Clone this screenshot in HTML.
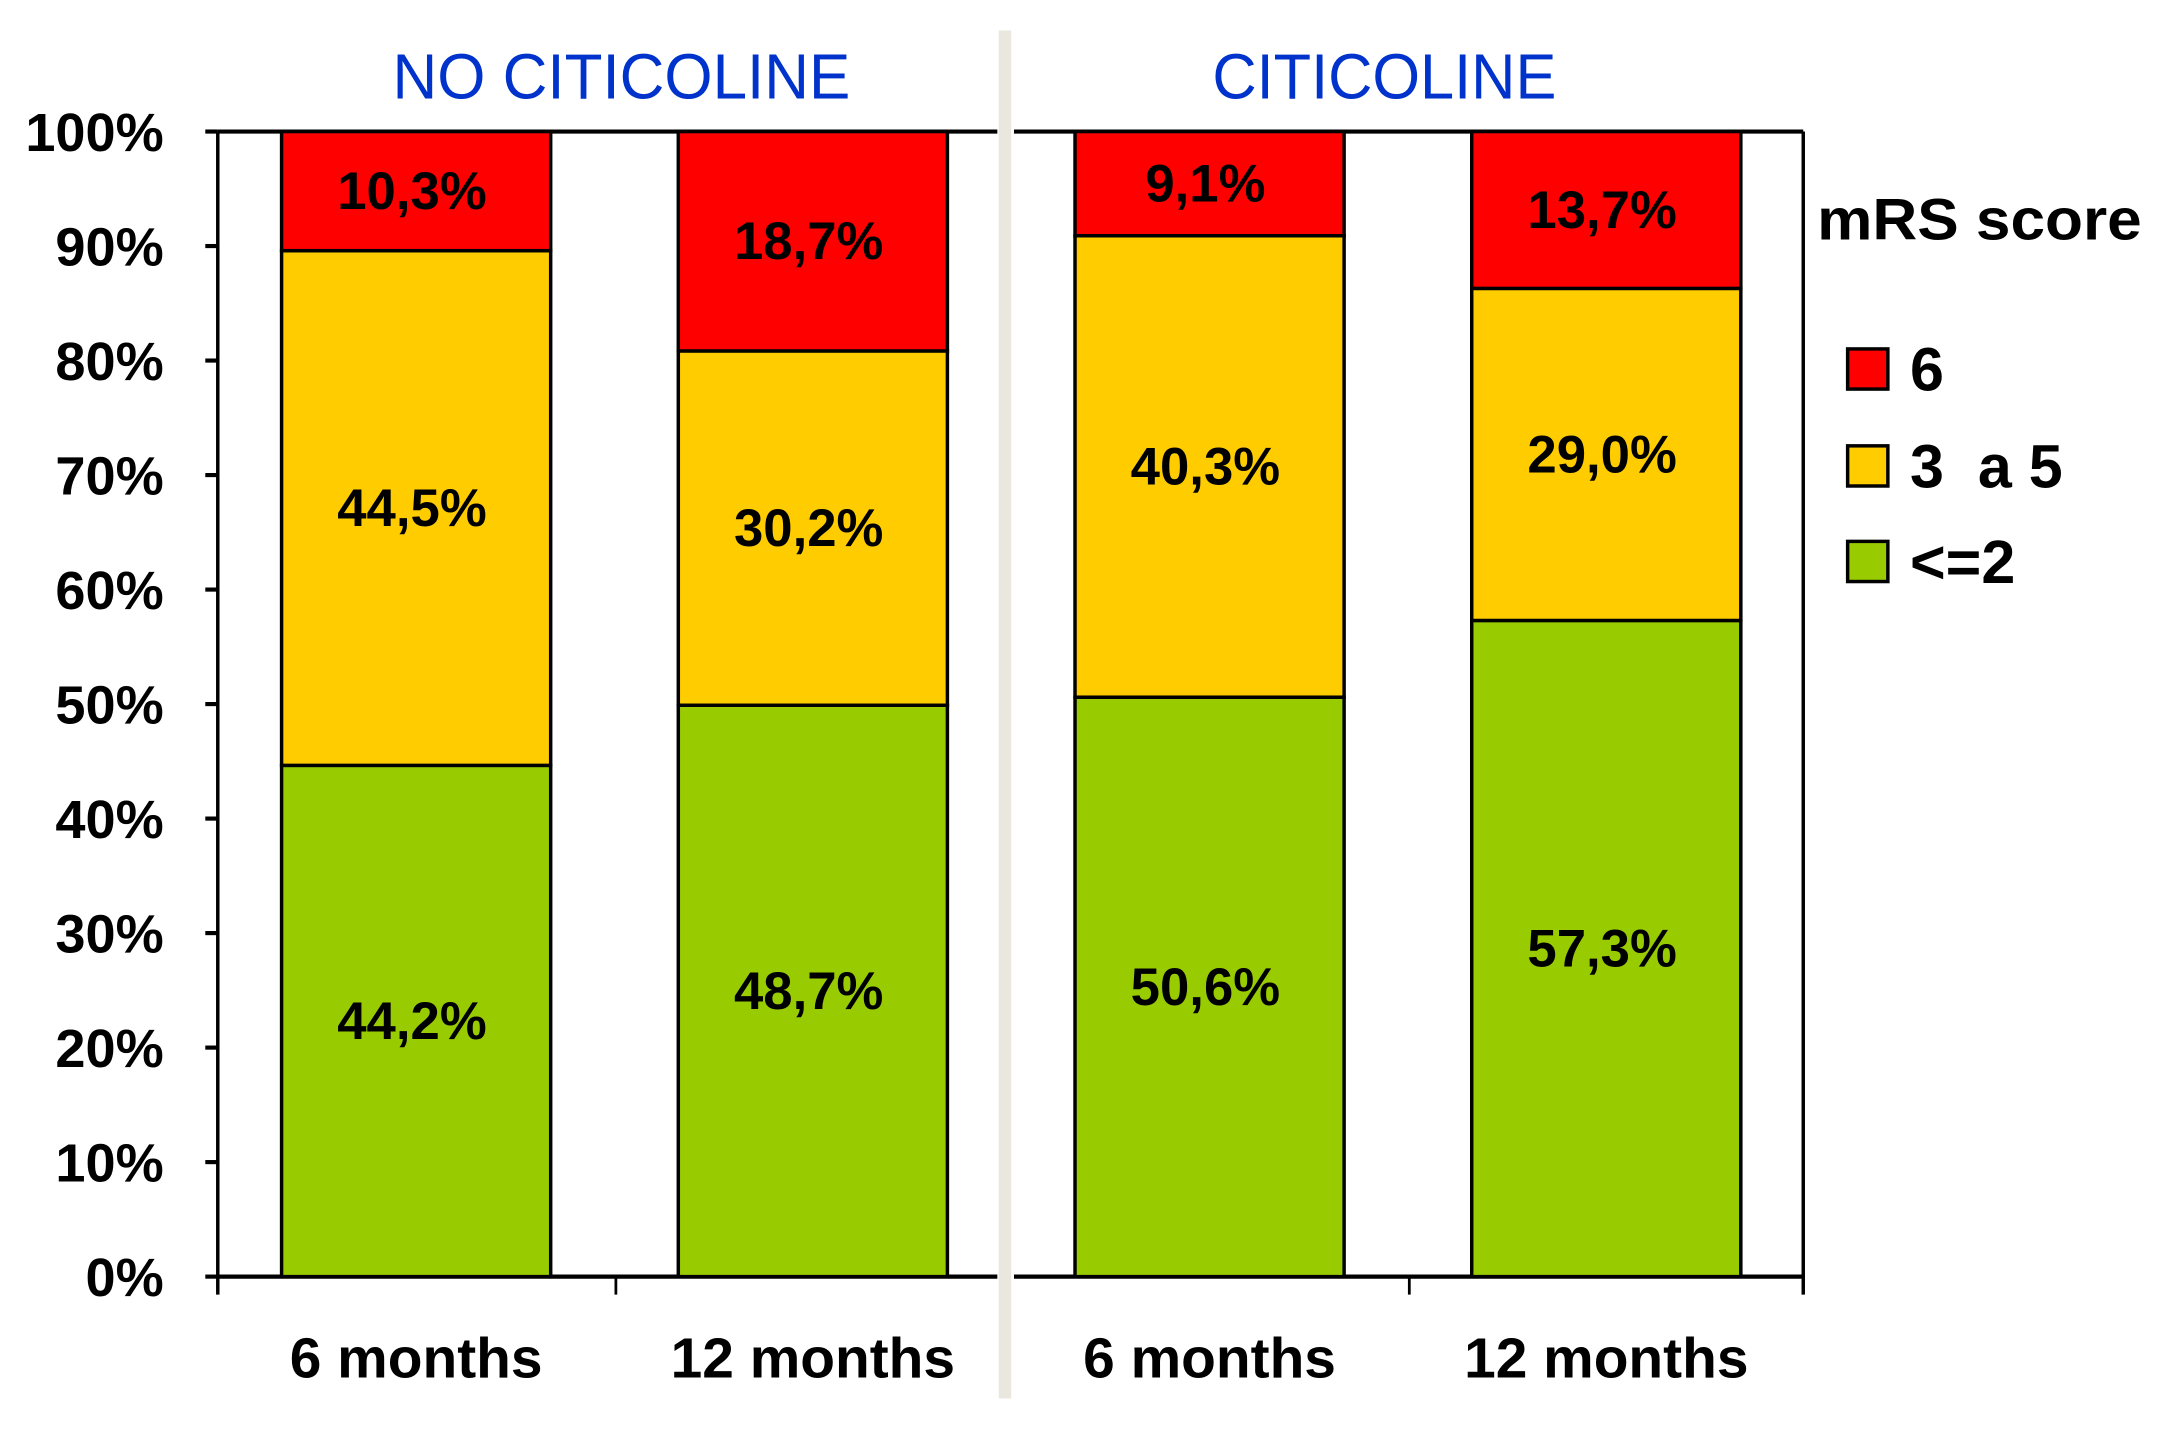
<!DOCTYPE html>
<html><head><meta charset="utf-8"><style>
html,body{margin:0;padding:0;background:#fff;}
svg{display:block;}
text{font-family:"Liberation Sans",sans-serif;}
</style></head><body>
<svg id="chart" width="2175" height="1440" viewBox="0 0 1568 1040" preserveAspectRatio="none" xmlns="http://www.w3.org/2000/svg">
<rect x="0" y="0" width="1568" height="1040" fill="#fff"/>
<g id="axes"></g>
<g id="bars"></g>
<g id="labels"></g>
</svg>
<script>
const categories = ["6 months","12 months","6 months","12 months"];
const groups = ["NO CITICOLINE","CITICOLINE"];
const seriesNames = ["<=2","3 a 5","6"];
const greenVals = [44.2, 48.7, 50.6, 57.3];
const yellowVals = [44.5, 30.2, 40.3, 29.0];
const redVals = [10.3, 18.7, 9.1, 13.7];
const yTicks = [0,10,20,30,40,50,60,70,80,90,100];

const NS="http://www.w3.org/2000/svg";
const gA=document.getElementById('axes'), gB=document.getElementById('bars'), gL=document.getElementById('labels');
const y0=922, y1=95;
function Y(p){return y0-(y0-y1)*p/100;}
const barX=[203,489,775,1061], barW=194;
function mk(tag,attrs,parent){const e=document.createElementNS(NS,tag);for(const k in attrs)e.setAttribute(k,attrs[k]);parent.appendChild(e);return e;}
const colors=["#99cc00","#ffcc00","#ff0000"];

let d=mk('rect',{x:720,y:22,width:9,height:988,fill:'#e9e7de'},gA);


let l=mk('line',{x1:157,y1:y1,x2:719,y2:y1,stroke:'#000','stroke-width':3},gA);


l=mk('line',{x1:731,y1:y1,x2:1300,y2:y1,stroke:'#000','stroke-width':3},gA);


l=mk('line',{x1:157,y1:y1,x2:157,y2:935,stroke:'#000','stroke-width':2.5},gA);


l=mk('line',{x1:1300,y1:y1,x2:1300,y2:935,stroke:'#000','stroke-width':2.5},gA);


l=mk('line',{x1:157,y1:y0,x2:719,y2:y0,stroke:'#000','stroke-width':3},gA);


l=mk('line',{x1:731,y1:y0,x2:1300,y2:y0,stroke:'#000','stroke-width':3},gA);


[444,1016].forEach(x=>{const t=mk('line',{x1:x,y1:y0,x2:x,y2:935,stroke:'#000','stroke-width':2},gA);

});
yTicks.forEach(v=>{const yy=Y(v);
const t=mk('line',{x1:148,y1:yy,x2:157,y2:yy,stroke:'#000','stroke-width':3},gA);


const tx=mk('text',{x:118,y:yy+14,'text-anchor':'end','font-size':39,'font-weight':'bold'},gL);
tx.textContent=v+'%';

});

categories.forEach((c,i)=>{
  const vals=[greenVals[i],yellowVals[i],redVals[i]];
  const sum=vals.reduce((a,b)=>a+b,0);
  let acc=0;
  vals.forEach((v,s)=>{
    const lo=acc/sum*100; acc+=v; const hi=acc/sum*100;
    const r=mk('rect',{x:barX[i],y:Y(hi),width:barW,height:Y(lo)-Y(hi),fill:colors[s],stroke:'#000','stroke-width':2.5},gB);
    
    
    const t=mk('text',{x:barX[i]+barW/2-3,y:(Y(hi)+Y(lo))/2+13,'text-anchor':'middle','font-size':38,'font-weight':'bold'},gL);
    t.textContent=v.toFixed(1).replace('.',',')+'%';
    
    
  });
  const xl=mk('text',{x:barX[i]+barW/2,y:995,'text-anchor':'middle','font-size':41,'font-weight':'bold'},gL);
  xl.textContent=c;
  
  
});
[[448,groups[0]],[998,groups[1]]].forEach(([x,g])=>{
  const t=mk('text',{x:x,y:71,'text-anchor':'middle','font-size':46,fill:'#0033cc',textLength:g.length>10?330:248,lengthAdjust:'spacingAndGlyphs'},gL);
  t.textContent=g;
  
  
});
let lt=mk('text',{x:1310,y:173,'font-size':42,'font-weight':'bold',textLength:234,lengthAdjust:'spacingAndGlyphs'},gL);
lt.textContent='mRS score';


const legY=[266,336,405];
[2,1,0].forEach((s,k)=>{
  const r=mk('rect',{x:1332,y:legY[k]-14,width:29,height:29,fill:colors[s],stroke:'#000','stroke-width':2.5},gL);
  
  
  const t=mk('text',{x:1377,y:legY[k]+16,'font-size':44,'font-weight':'bold'},gL);
  t.textContent=seriesNames[s].replace('3 a 5','3 \u00a0a 5');
  
  
});
</script>
</body></html>
